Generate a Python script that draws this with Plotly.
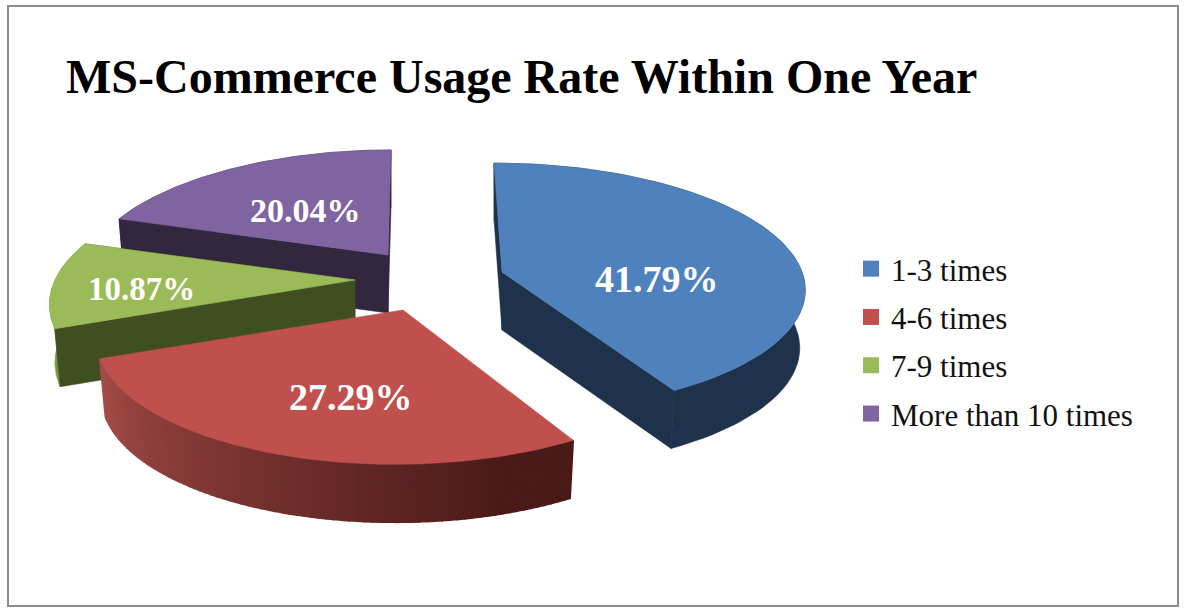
import math
import plotly.graph_objects as go

# Chart content
title_text = "MS-Commerce Usage Rate Within One Year"
categories = ["1-3 times", "4-6 times", "7-9 times", "More than 10 times"]
shares = [41.79, 27.29, 10.87, 20.04]

# Styling per slice
top_colors = ["#4f81bd", "#c0504d", "#9bbb59", "#8064a2"]
wall_colors = ["#1e324c", "#4d1c1a", "#76953f", "#33263f"]
cut_colors = ["#1e324c", None, "#404f22", "#33263f"]
apex_x = [502, 403, 355, 388]
apex_y = [272, 310, 280, 255]
skew = [-8, 8, 0, 3]
radius_y = [122, 125, 125, 125]
perspective = [0.12, 0.19, 0.19, 0.19]
label_x = [657, 351, 141, 305]
label_y = [279, 397, 289, 210]
label_sizes = [38, 38, 33, 34]

# Projection of the tilted, exploded disc
RX = 300
DEPTH, SHRINK = 58, 0.982
FONT = "Liberation Serif"


def project(angle_deg, index):
    a = math.radians(angle_deg)
    across, away = math.sin(a), math.cos(a)
    scale = 1 / (1 + perspective[index] * away)
    return (apex_x[index] + RX * across * scale + skew[index] * away,
            apex_y[index] - radius_y[index] * away * scale)


def lower(pt, index):
    return (apex_x[index] + (pt[0] - apex_x[index]) * SHRINK, pt[1] + DEPTH)


def arc(start, end, index, steps=80):
    return [project(start + (end - start) * k / steps, index) for k in range(steps + 1)]


def polygon(points, color, edge=0.6):
    return go.Scatter(
        x=[p[0] for p in points] + [points[0][0]],
        y=[p[1] for p in points] + [points[0][1]],
        mode="lines", fill="toself", fillcolor=color,
        line=dict(color=color, width=edge),
        hoverinfo="skip", showlegend=False,
    )


def mix(c0, c1, t):
    a = [int(c0[i:i + 2], 16) for i in (1, 3, 5)]
    b = [int(c1[i:i + 2], 16) for i in (1, 3, 5)]
    return "rgb(%d,%d,%d)" % tuple(round(a[i] + (b[i] - a[i]) * t) for i in range(3))


fig = go.Figure()

# Angular extents, clockwise from twelve o'clock
total = sum(shares)
edges = [0.0]
for s in shares:
    edges.append(edges[-1] + 360 * s / total)

# Slices are painted back to front
for i in [3, 2, 1, 0]:
    start, end = edges[i], edges[i + 1]
    rim = arc(start, end, i)
    apex = (apex_x[i], apex_y[i])
    apex_low = lower(apex, i)

    # Curved outer wall; the red one is shaded along its length
    if i == 1:
        n = len(rim) - 1
        for k in range(n):
            t = 1 - k / (n - 1)
            col = mix("#a54c48", "#4a1a18", min(t / 0.88, 1))
            seg = [rim[k], rim[k + 1], lower(rim[k + 1], i), lower(rim[k], i)]
            fig.add_trace(polygon(seg, col, edge=1.6))
    else:
        fig.add_trace(polygon(rim + [lower(p, i) for p in reversed(rim)], wall_colors[i]))

    # Cut faces
    if cut_colors[i]:
        for edge_pt in (rim[0], rim[-1]):
            fig.add_trace(polygon([apex, edge_pt, lower(edge_pt, i), apex_low], cut_colors[i]))

    # Top face
    fig.add_trace(polygon([apex] + rim, top_colors[i]))

# Legend entries
for name, color in zip(categories, top_colors):
    fig.add_trace(go.Scatter(
        x=[None], y=[None], mode="markers", name=name, legendgroup=name,
        marker=dict(symbol="square", size=16, color=color),
    ))

annotations = [
    dict(x=x, y=y, text=f"{v:.2f}%", showarrow=False, xanchor="center", yanchor="middle",
         font=dict(family=FONT, size=size, color="white", weight="bold"))
    for v, x, y, size in zip(shares, label_x, label_y, label_sizes)
]

fig.update_layout(
    width=1184, height=609, autosize=False,
    margin=dict(l=0, r=0, t=0, b=0),
    paper_bgcolor="white", plot_bgcolor="white",
    title=dict(
        text=title_text, x=66 / 1184, xanchor="left", xref="paper",
        y=1 - 76 / 609, yanchor="middle", yref="container",
        font=dict(family=FONT, size=48, color="black", weight="bold"),
    ),
    xaxis=dict(range=[0, 1184], visible=False, fixedrange=True),
    yaxis=dict(range=[609, 0], visible=False, fixedrange=True),
    legend=dict(
        x=851 / 1184, y=1 - 242 / 609, xanchor="left", yanchor="top",
        font=dict(family=FONT, size=31, color="#111111"),
        tracegroupgap=5, itemsizing="trace", bgcolor="rgba(0,0,0,0)",
    ),
    annotations=annotations,
    shapes=[dict(type="rect", x0=8, y0=6, x1=1178, y1=606,
                 line=dict(color="#8c8c8c", width=2), layer="below")],
)

fig.write_html("out.html")
